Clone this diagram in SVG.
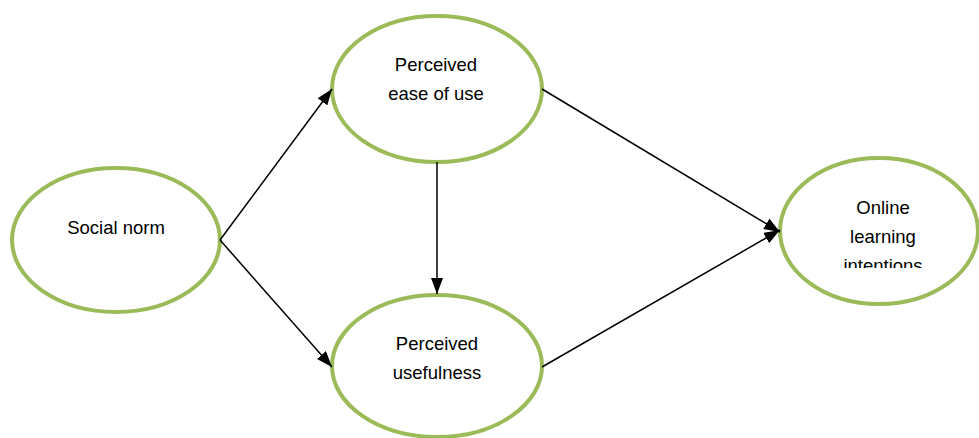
<svg xmlns="http://www.w3.org/2000/svg" width="979" height="438" viewBox="0 0 979 438">
<style>
.node{fill:#fff;stroke:#9bbb59;stroke-width:4}
.lbl{font-family:"Liberation Sans",Arial,sans-serif;font-size:18.5px;fill:#000;text-anchor:middle}
.edge{stroke:#000;stroke-width:1.5;fill:none;marker-end:url(#ah)}
</style>
<defs>
<marker id="ah" markerWidth="16" markerHeight="12" refX="16" refY="6" orient="auto" markerUnits="userSpaceOnUse">
<path d="M0,0 L16,6 L0,12 Z" fill="#000"/>
</marker>
<clipPath id="clipOL"><rect x="780" y="150" width="199" height="118"/></clipPath>
</defs>
<rect width="979" height="438" fill="#fff"/>
<g id="n-social">
<ellipse class="node" cx="116" cy="240" rx="104" ry="72"/>
<text class="lbl" x="116" y="234">Social norm</text>
</g>
<g id="n-ease">
<ellipse class="node" cx="437" cy="89" rx="105" ry="73"/>
<text class="lbl" x="436" y="71">Perceived</text>
<text class="lbl" x="436" y="100">ease of use</text>
</g>
<g id="n-useful">
<ellipse class="node" cx="437" cy="366" rx="105" ry="71"/>
<text class="lbl" x="437" y="350">Perceived</text>
<text class="lbl" x="437" y="379">usefulness</text>
</g>
<g id="n-online">
<ellipse class="node" cx="879" cy="231" rx="99" ry="73"/>
<g clip-path="url(#clipOL)">
<text class="lbl" x="883" y="214">Online</text>
<text class="lbl" x="883" y="243">learning</text>
<text class="lbl" x="883" y="272">intentions</text>
</g>
</g>
<g id="connectors">
<line class="edge" x1="220" y1="240" x2="332" y2="89"/>
<line class="edge" x1="220" y1="240" x2="332" y2="367"/>
<line class="edge" x1="437" y1="162" x2="437" y2="294"/>
<line class="edge" x1="542" y1="89" x2="780" y2="232"/>
<line class="edge" x1="542" y1="367" x2="780" y2="230"/>
</g>
</svg>
